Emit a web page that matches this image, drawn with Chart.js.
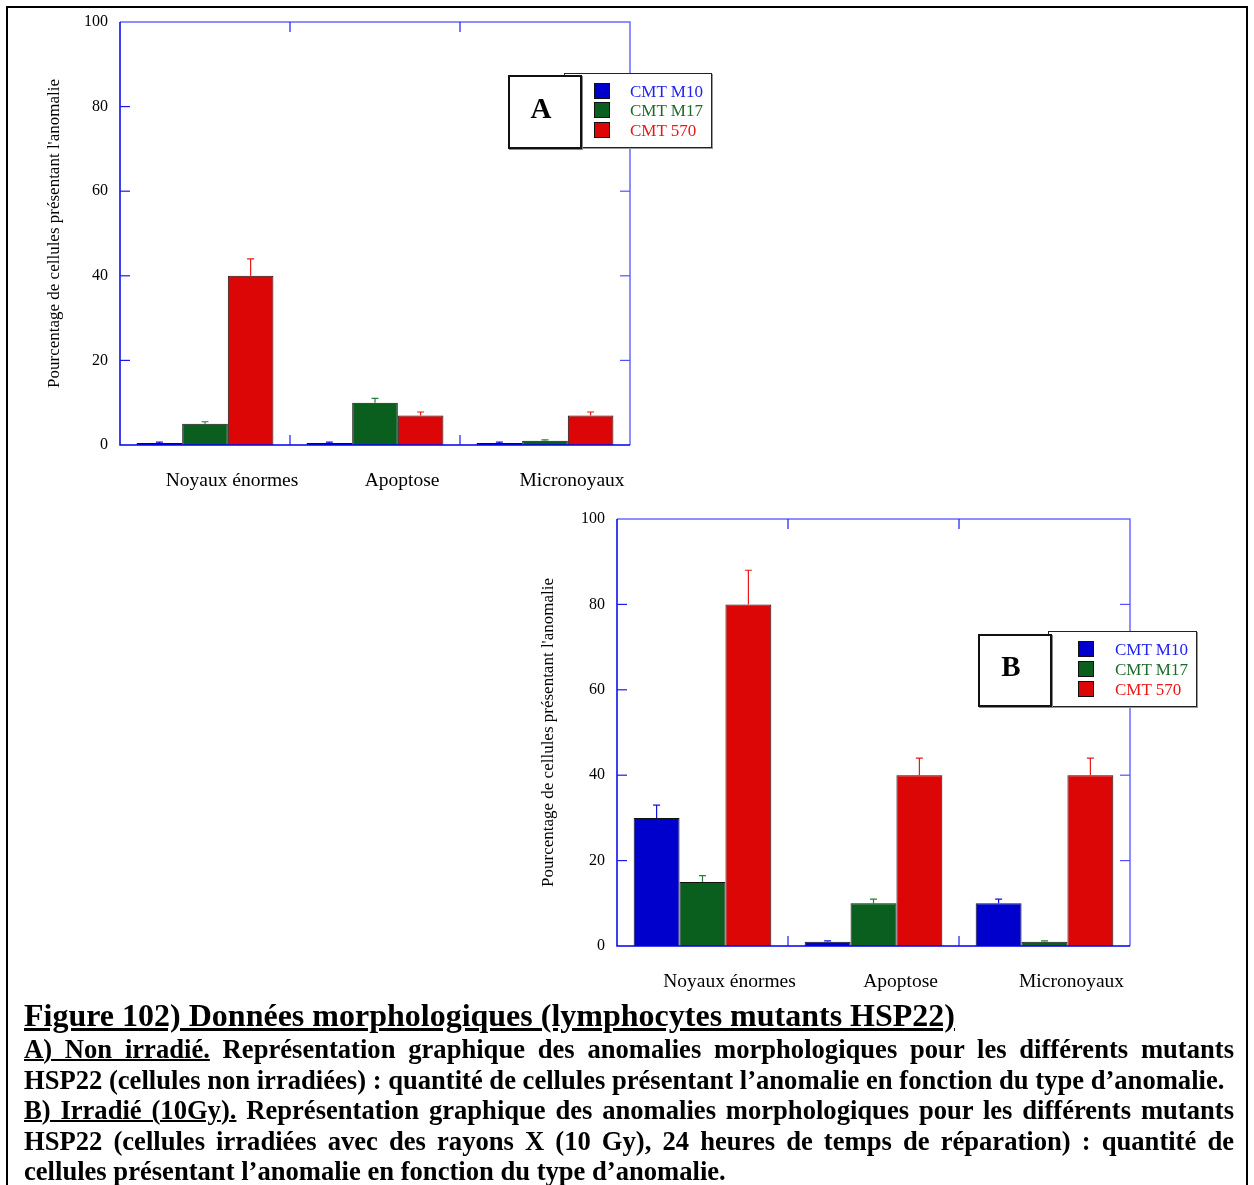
<!DOCTYPE html>
<html>
<head>
<meta charset="utf-8">
<script src="https://cdn.jsdelivr.net/npm/chart.js@4"></script>
<style>
  html, body { margin:0; padding:0; background:#fff; width:1254px; height:1185px; overflow:hidden; }
  body { position:relative; font-family:"Liberation Serif","Times New Roman",serif; }
  #frame { position:absolute; left:6px; top:6px; width:1242px; height:1200px; border:2px solid #000; box-sizing:border-box; }
  .cv { position:absolute; }
  .letter { position:absolute; background:#fff; border:2px solid #111; box-shadow:1px 1px 0 #888; box-sizing:border-box;
            font-weight:bold; font-size:29px; display:flex; align-items:center; justify-content:center; z-index:3;
            padding:0 8px 8px 0; }
  .legend { position:absolute; background:#fff; border:1px solid #222; box-shadow:1px 1px 0 #999; box-sizing:border-box; z-index:2; }
  .sq { position:absolute; width:15px; height:15px; border:1px solid #111; box-sizing:border-box; }
  .lt { position:absolute; font-size:17px; line-height:19px; white-space:nowrap; }
  #caption { position:absolute; left:24px; top:998px; width:1210px; font-weight:bold; color:#000; }
  #caption .t { font-size:32px; line-height:34px; text-decoration:underline; white-space:nowrap; }
  #caption p { margin:0; font-size:26.6px; line-height:30.5px; text-align:justify; }
  #caption p.first { margin-top:2px; }
  #caption u { text-decoration-thickness:2px; }
</style>
</head>
<body>
<div id="frame"></div>
<canvas id="cA" class="cv" style="left:0px;top:0px;"></canvas>
<canvas id="cB" class="cv" style="left:497px;top:497px;"></canvas>

<div class="legend" style="left:564px;top:73px;width:148px;height:75px;" id="legA"></div>
<div class="letter" style="left:508px;top:75px;width:74px;height:74px;">A</div>

<div class="legend" style="left:1048px;top:631px;width:149px;height:76px;" id="legB"></div>
<div class="letter" style="left:978px;top:634px;width:74px;height:73px;">B</div>

<div id="caption">
  <div class="t">Figure 102) Données morphologiques (lymphocytes mutants HSP22)</div>
  <p class="first"><u>A) Non irradié.</u> Représentation graphique des anomalies morphologiques pour les différents mutants HSP22 (cellules non irradiées) : quantité de cellules présentant l’anomalie en fonction du type d’anomalie.</p>
  <p><u>B) Irradié (10Gy).</u> Représentation graphique des anomalies morphologiques pour les différents mutants HSP22 (cellules irradiées avec des rayons X (10 Gy), 24 heures de temps de réparation) : quantité de cellules présentant l’anomalie en fonction du type d’anomalie.</p>
</div>

<script>
// ---------- DATA ----------
const categories = ['Noyaux énormes', 'Apoptose', 'Micronoyaux'];
const seriesNames = ['CMT M10', 'CMT M17', 'CMT 570'];
const yTicks = [0, 20, 40, 60, 80, 100];
const yTitle = "Pourcentage de cellules présentant l'anomalie";

// Panel A : non irradié
const A_M10 = [0.5, 0.5, 0.5];
const A_M17 = [5, 10, 1];
const A_570 = [40, 7, 7];
const A_M10_err = [0.2, 0.2, 0.2];
const A_M17_err = [0.5, 1, 0.2];
const A_570_err = [4, 0.8, 0.8];

// Panel B : irradié (10 Gy)
const B_M10 = [30, 1, 10];
const B_M17 = [15, 10, 1];
const B_570 = [80, 40, 40];
const B_M10_err = [3, 0.2, 1];
const B_M17_err = [1.5, 1, 0.2];
const B_570_err = [8, 4, 4];

// ---------- STYLE ----------
const FONT = '"Liberation Serif","Times New Roman",serif';
const barColors = ['#0000cc', '#0a5e1e', '#dd0606'];
const errColors = ['#1010dd', '#2f7a3f', '#e81818'];
const legendTextColors = ['#2222ee', '#1d6b2c', '#ee1515'];

// legends (HTML)
function buildLegend(id, sqLeft, textLeft, tops) {
  const el = document.getElementById(id);
  const box = el.getBoundingClientRect();
  seriesNames.forEach((n, i) => {
    const s = document.createElement('div');
    s.className = 'sq';
    s.style.left = (sqLeft - box.left - 1) + 'px';
    s.style.top = (tops[i] - box.top - 1) + 'px';
    s.style.background = barColors[i];
    s.style.width = '16px'; s.style.height = '16px';
    el.appendChild(s);
    const t = document.createElement('div');
    t.className = 'lt';
    t.textContent = n;
    t.style.color = legendTextColors[i];
    t.style.left = (textLeft - box.left - 1) + 'px';
    t.style.top = (tops[i] - box.top - 2) + 'px';
    el.appendChild(t);
  });
}
buildLegend('legA', 594, 630, [83, 102, 122]);
buildLegend('legB', 1078, 1115, [641, 661, 681]);

const frameTicks = {
  id: 'frameTicks',
  afterDatasetsDraw(chart) {
    const {ctx, chartArea: a, scales: {x, y}} = chart;
    ctx.save();
    // error bars
    chart.data.datasets.forEach((ds, i) => {
      const meta = chart.getDatasetMeta(i);
      meta.data.forEach((bar, j) => {
        const v = ds.data[j], e = ds.errors[j];
        const yt = y.getPixelForValue(v + e);
        ctx.strokeStyle = errColors[i];
        ctx.lineWidth = 1.2;
        ctx.beginPath();
        ctx.moveTo(bar.x, bar.y); ctx.lineTo(bar.x, yt);
        ctx.moveTo(bar.x - 3.5, yt); ctx.lineTo(bar.x + 3.5, yt);
        ctx.stroke();
      });
    });
    // frame
    ctx.lineWidth = 1.5;
    ctx.strokeStyle = '#6a6aff';
    ctx.beginPath();
    ctx.moveTo(a.left, a.top); ctx.lineTo(a.right, a.top); ctx.lineTo(a.right, a.bottom);
    ctx.stroke();
    ctx.strokeStyle = '#0000ee';
    ctx.beginPath();
    ctx.moveTo(a.left, a.top); ctx.lineTo(a.left, a.bottom); ctx.lineTo(a.right, a.bottom);
    ctx.stroke();
    // y ticks (inward)
    ctx.lineWidth = 1.2;
    y.ticks.forEach(t => {
      if (t.value <= y.min || t.value >= y.max) return;
      const py = y.getPixelForValue(t.value);
      ctx.strokeStyle = '#1a1af0';
      ctx.beginPath(); ctx.moveTo(a.left, py); ctx.lineTo(a.left + 10, py); ctx.stroke();
      ctx.strokeStyle = '#5050ff';
      ctx.beginPath(); ctx.moveTo(a.right, py); ctx.lineTo(a.right - 10, py); ctx.stroke();
    });
    // category boundaries
    for (let j = 0; j < categories.length - 1; j++) {
      const px = (x.getPixelForValue(j) + x.getPixelForValue(j + 1)) / 2;
      ctx.strokeStyle = '#1a1af0';
      ctx.beginPath(); ctx.moveTo(px, a.top); ctx.lineTo(px, a.top + 10); ctx.stroke();
      ctx.beginPath(); ctx.moveTo(px, a.bottom); ctx.lineTo(px, a.bottom - 10); ctx.stroke();
    }
    ctx.restore();
  }
};

function makeChart(id, w, h, d, e, titlePad) {
  const c = document.getElementById(id);
  c.width = w; c.height = h; c.style.width = w + 'px'; c.style.height = h + 'px';
  return new Chart(c, {
    type: 'bar',
    data: {
      labels: categories,
      datasets: seriesNames.map((n, i) => ({
        label: n, data: d[i], errors: e[i],
        backgroundColor: barColors[i], borderColor: '#111', borderWidth: 1,
        categoryPercentage: 0.805, barPercentage: 1.0
      }))
    },
    options: {
      responsive: false, animation: false, devicePixelRatio: 1,
      layout: { padding: { top: 22, right: 10, left: 0, bottom: 0 } },
      plugins: { legend: { display: false }, tooltip: { enabled: false } },
      scales: {
        x: {
          grid: { display: false }, border: { display: false },
          ticks: { color: '#000', font: { family: FONT, size: 19.5 }, padding: 16, maxRotation: 0, labelOffset: 27 },
          afterFit(s) { s.height = 55; }
        },
        y: {
          min: 0, max: 100,
          afterBuildTicks(s) { s.ticks = yTicks.map(v => ({ value: v })); },
          grid: { display: false, drawTicks: false }, border: { display: false },
          ticks: { color: '#000', font: { family: FONT, size: 16 }, padding: 12 },
          title: { display: true, text: yTitle, color: '#000', font: { family: FONT, size: 17 }, padding: { top: titlePad, bottom: 0 } },
          afterFit(s) { s.width = 120; }
        }
      }
    },
    plugins: [frameTicks]
  });
}

makeChart('cA', 640, 500, [A_M10, A_M17, A_570], [A_M10_err, A_M17_err, A_570_err], 44);
makeChart('cB', 643, 504, [B_M10, B_M17, B_570], [B_M10_err, B_M17_err, B_570_err], 41);
</script>
</body>
</html>
